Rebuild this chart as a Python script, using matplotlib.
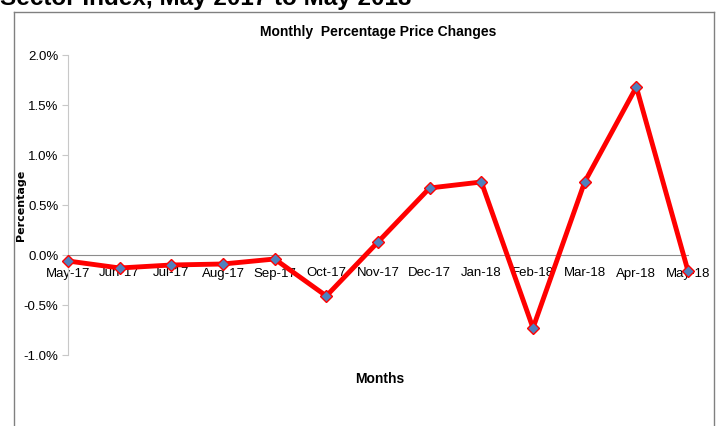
import matplotlib
matplotlib.use('Agg')
import matplotlib.pyplot as plt
from matplotlib.lines import Line2D
from matplotlib.ticker import FuncFormatter

months = ['May-17', 'Jun-17', 'Jul-17', 'Aug-17', 'Sep-17', 'Oct-17', 'Nov-17',
          'Dec-17', 'Jan-18', 'Feb-18', 'Mar-18', 'Apr-18', 'May-18']
pct_change = [-0.06, -0.13, -0.10, -0.09, -0.04, -0.41, 0.13,
              0.67, 0.73, -0.73, 0.73, 1.68, -0.16]
y_ticks = [-1.0, -0.5, 0.0, 0.5, 1.0, 1.5, 2.0]

plt.rcParams['font.family'] = ['Liberation Sans Narrow', 'Liberation Sans', 'DejaVu Sans']

fig = plt.figure(figsize=(7.16, 4.26), dpi=100)
ax = fig.add_axes([68/716, 71/426, 620/716, 300/426])

x = list(range(len(months)))
ax.plot(x, pct_change, color='#FF0000', lw=3.5, marker='D', ms=6.5,
        mfc='#4F81BD', mec='#FF0000', mew=1, zorder=3, clip_on=False)

ax.set_xlim(0, len(months) - 1)
ax.set_ylim(-1.0, 2.0)
ax.set_yticks(y_ticks)
ax.yaxis.set_major_formatter(FuncFormatter(lambda v, p: '{0:.1f}%'.format(v)))
ax.set_xticks(x)
ax.set_xticklabels(months)

for s in ['top', 'right']:
    ax.spines[s].set_visible(False)
ax.spines['left'].set_color('#C8C8C8')
ax.spines['bottom'].set_position(('data', 0))
ax.spines['bottom'].set_color('#8C8C8C')
ax.tick_params(axis='y', length=4, color='#C8C8C8', labelsize=9.5, pad=3)
ax.tick_params(axis='x', length=0, labelsize=9.5, pad=9)

ax.set_title('Monthly  Percentage Price Changes', fontsize=10, fontweight='bold',
             pad=14)
fig.text(21/716, 1 - 205/426, 'Percentage', rotation=90, ha='center', va='center',
         fontsize=8, fontweight='bold', family=['DejaVu Sans'])
fig.text(380/716, 1 - 379/426, 'Months', ha='center', va='center',
         fontsize=10, fontweight='bold')

# heading of the page, cut off at the top as in the source
fig.text(0.0, 1 - 5/426, 'Sector Index, May 2017 to May 2018', ha='left',
         va='baseline', fontsize=17.5, fontweight='bold', family=['Liberation Sans'])

# chart frame
fc = '#808080'
fig.add_artist(Line2D([14/716, 14/716], [0, 1 - 12/426], transform=fig.transFigure, color=fc, lw=1))
fig.add_artist(Line2D([14/716, 714/716], [1 - 12/426, 1 - 12/426], transform=fig.transFigure, color=fc, lw=1))
fig.add_artist(Line2D([714/716, 714/716], [0, 1 - 12/426], transform=fig.transFigure, color=fc, lw=1))

fig.savefig('out.png', dpi=100)
